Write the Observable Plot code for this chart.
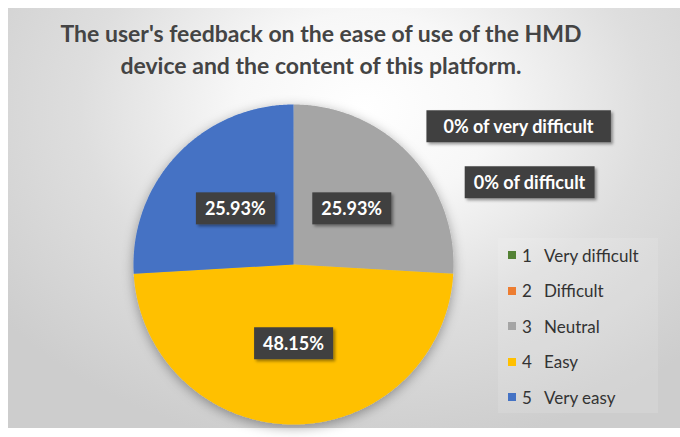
<!DOCTYPE html>
<html><head><meta charset="utf-8">
<script src="https://cdn.jsdelivr.net/npm/d3@7"></script>
<script src="https://cdn.jsdelivr.net/npm/@observablehq/plot@0.6"></script>
<style>
body{margin:0;background:#fff;}
#wrap{position:relative;width:680px;height:437px;overflow:hidden;font-family:Lato,"Open Sans",sans-serif;}
#bg{position:absolute;left:8px;top:8px;width:672px;height:420px;
  background:radial-gradient(ellipse 68% 82% at 53% 24%, #ffffff 0%, #f7f7f7 28%, #dedede 62%, #cdcdcd 100%);}
#title{position:absolute;left:0;top:17px;width:642px;text-align:center;font-weight:700;font-size:23px;line-height:32px;color:#444;}
#chart{position:absolute;left:0;top:0;}
#legend{position:absolute;left:498px;top:238px;width:160px;}
.row{position:absolute;left:0;height:20px;display:flex;align-items:center;font-size:17px;color:#333;white-space:nowrap;}
.sw{width:8px;height:8px;margin-left:10px;margin-right:6px;}
.code{width:22px;}
</style></head>
<body><div id="wrap"><div id="bg"></div><div id="chart"></div><div id="title">The user's feedback on the ease of use of the HMD<br>device and the content of this platform.</div><div id="legend"></div></div>
<script>
// ---- data ----
const codes = ["1", "2", "3", "4", "5"];
const names = ["Very difficult", "Difficult", "Neutral", "Easy", "Very easy"];
const percents = [0, 0, 25.93, 48.15, 25.93];
const colors = ["#548235", "#ED7D31", "#A5A5A5", "#FFC000", "#4472C4"];
const zeroLabels = ["0% of very difficult", "0% of difficult"];

// ---- layout ----
const W = 680, H = 437, cx = 293, cy = 264, R = 160;

const rows = names.map((n, i) => ({code: codes[i], name: n, pct: percents[i], color: colors[i]}));
const arcs = d3.pie().sort(null).value(d => d.pct)(rows);

// slice polygons (sampled along the arc)
const pts = [];
for (const a of arcs) {
  if (a.endAngle - a.startAngle <= 0) continue;
  const n = Math.max(2, Math.ceil((a.endAngle - a.startAngle) / (Math.PI / 360)));
  pts.push({name: a.data.name, x: 0, y: 0});
  for (let k = 0; k <= n; k++) {
    const t = a.startAngle + (a.endAngle - a.startAngle) * k / n;
    pts.push({name: a.data.name, x: Math.sin(t), y: Math.cos(t)});
  }
  pts.push({name: a.data.name, x: 0, y: 0});
}

const inner = arcs.filter(a => a.data.pct > 0).map(a => {
  const m = (a.startAngle + a.endAngle) / 2;
  return {x: 0.5 * Math.sin(m), y: 0.5 * Math.cos(m), text: a.data.pct.toFixed(2) + "%"};
});
const outer = arcs.filter(a => a.data.pct === 0).map((a, i) => {
  const m = (a.startAngle + a.endAngle) / 2;
  return {x: Math.sin(m), y: Math.cos(m), text: zeroLabels[i]};
});

const txt = {x: "x", y: "y", text: "text", fill: "white", fontWeight: 700, fontSize: 18, fontFamily: "Lato", className: "lbl"};
const plot = Plot.plot({
  width: W, height: H, margin: 0,
  style: {background: "transparent", overflow: "visible"},
  x: {type: "linear", domain: [-cx / R, (W - cx) / R], range: [0, W], axis: null},
  y: {type: "linear", domain: [-(H - cy) / R, cy / R], range: [H, 0], axis: null},
  color: {domain: names, range: colors},
  marks: [
    Plot.line(pts, {x: "x", y: "y", z: "name", fill: "name", stroke: null, curve: "linear", className: "pie"}),
    Plot.text(inner, txt),
    Plot.text(outer.slice(0, 1), {...txt, dx: 225, dy: 23, className: "lblw"}),
    Plot.text(outer.slice(1, 2), {...txt, dx: 236, dy: 79})
  ]
});
document.getElementById("chart").appendChild(plot);

const svg = d3.select(plot);
const defs = svg.insert("defs", ":first-child");
const f1 = defs.append("filter").attr("id", "pieShadow").attr("x", "-20%").attr("y", "-20%").attr("width", "140%").attr("height", "140%");
f1.append("feDropShadow").attr("dx", 0).attr("dy", 3).attr("stdDeviation", 6).attr("flood-color", "#000").attr("flood-opacity", 0.35);
const f2 = defs.append("filter").attr("id", "boxShadow").attr("x", "-20%").attr("y", "-30%").attr("width", "150%").attr("height", "170%");
f2.append("feDropShadow").attr("dx", 2).attr("dy", 2).attr("stdDeviation", 1.5).attr("flood-color", "#000").attr("flood-opacity", 0.4);
svg.selectAll("g.pie").attr("filter", "url(#pieShadow)");

function boxes(sel, padX) {
  svg.selectAll(sel).each(function () {
    const b = this.getBBox();
    const padY = 6;
    d3.select(this.parentNode).insert("rect", () => this)
      .attr("transform", this.getAttribute("transform"))
      .attr("x", b.x - padX).attr("y", b.y - padY + 1)
      .attr("width", b.width + 2 * padX).attr("height", b.height + 2 * padY - 2)
      .attr("fill", "#404040").attr("filter", "url(#boxShadow)");
  });
}
boxes("g.lbl text", 9);
boxes("g.lblw text", 17);

// legend
const lg = d3.select("#legend");
lg.style("height", "175px").style("background", "rgba(255,255,255,0.12)");
rows.forEach((d, i) => {
  const r = lg.append("div").attr("class", "row").style("top", (7 + i * 35.5) + "px");
  r.append("div").attr("class", "sw").style("background", d.color);
  r.append("div").attr("class", "code").text(d.code);
  r.append("div").text(d.name);
});
</script></body></html>
